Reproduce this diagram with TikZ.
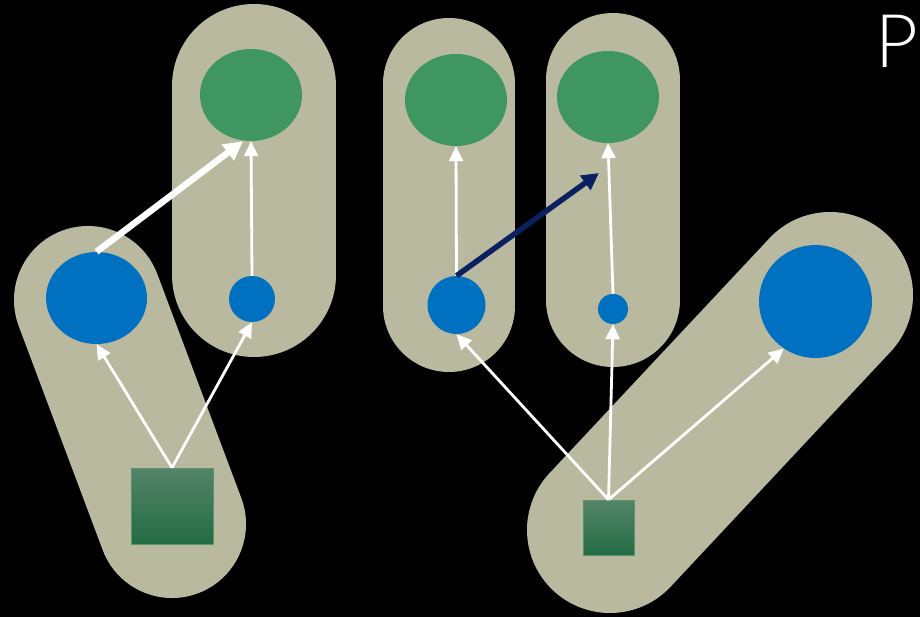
\documentclass[tikz,border=0pt]{standalone}
\usepackage{fontspec}
\newfontfamily\pfont{Lato Light}
\usetikzlibrary{shapes.geometric,arrows.meta,calc}
\definecolor{capsule}{RGB}{184,185,159}
\definecolor{leafgreen}{RGB}{64,150,96}
\definecolor{nodeblue}{RGB}{0,112,192}
\definecolor{navy}{RGB}{10,32,96}
\definecolor{sqtop}{RGB}{84,132,105}
\definecolor{sqmid}{RGB}{38,112,72}
\definecolor{sqbot}{RGB}{35,108,68}
\definecolor{sqedge}{RGB}{90,145,112}
\tikzset{
  capsulebar/.style={line width=#1, line cap=round, draw=capsule},
  greenell/.style={ellipse, fill=leafgreen, minimum width=102pt, minimum height=92pt, inner sep=0pt},
  bluedot/.style={circle, fill=nodeblue, minimum size=#1, inner sep=0pt},
  gsquare/.style={rectangle, draw=sqedge, line width=0.6pt, top color=sqtop, middle color=sqmid, bottom color=sqbot, inner sep=0pt},
  thinarrow/.style={draw=white, line width=2.8pt, -{Triangle[length=15pt,width=14pt]}},
  thickarrow/.style={draw=white, line width=6.5pt, -{Triangle[length=19pt,width=19pt]}},
  navyarrow/.style={draw=navy, line width=5.5pt, -{Triangle[length=17pt,width=17pt]}},
}
\begin{document}
\begin{tikzpicture}[x=1pt,y=-1pt]
\fill[black] (0,0) rectangle (920,617);
\useasboundingbox (0,0) rectangle (920,617);
% capsules
\draw[capsulebar=148pt] (88,300) -- (172,524);
\draw[capsulebar=164pt] (254,86) -- (254,275);
\draw[capsulebar=132pt] (449,84) -- (449,306);
\draw[capsulebar=134pt] (613,80) -- (613,300);
\draw[capsulebar=166pt] (610,530) -- (830,295);
% nodes
\node[greenell] (greenA) at (251,95) {};
\node[greenell] (greenB) at (456,100) {};
\node[greenell] (greenC) at (608,97) {};
\node[ellipse, fill=nodeblue, minimum width=101pt, minimum height=92pt, inner sep=0pt] (blueL) at (96.5,298) {};
\node[bluedot=46pt] (blueS) at (252,299) {};
\node[bluedot=58pt] (blueC) at (456.5,305) {};
\node[bluedot=30pt] (blueT) at (613,309) {};
\node[bluedot=113pt] (blueBig) at (815.5,301.5) {};
\node[gsquare, minimum width=82pt, minimum height=76pt] (sq1) at (172,506) {};
\node[gsquare, minimum width=51pt, minimum height=55pt] (sq2) at (608.5,527.5) {};
\coordinate (navyEnd) at (599,173);
% connectors
\draw[thickarrow] (blueL.north) -- ($(greenA.south)+(-8,0)$);
\draw[thinarrow] (blueS.north) -- (greenA.south);
\draw[thinarrow] (sq1.north) -- (blueL.south);
\draw[thinarrow] (sq1.north) -- (blueS.south);
\draw[thinarrow] (blueC.north) -- (greenB.south);
\draw[navyarrow] (blueC.north) -- (navyEnd);
\draw[thinarrow] (blueT.north) -- (greenC.south);
\draw[thinarrow] (sq2.north) -- (blueC.south);
\draw[thinarrow] (sq2.north) -- (blueT.south);
\draw[thinarrow] (sq2.north) -- (blueBig.236);
% label
\node[anchor=base west, inner sep=0pt, text=white, font=\pfont\fontsize{74}{74}\selectfont] (plabel) at (875,68) {P};
\end{tikzpicture}
\end{document}
